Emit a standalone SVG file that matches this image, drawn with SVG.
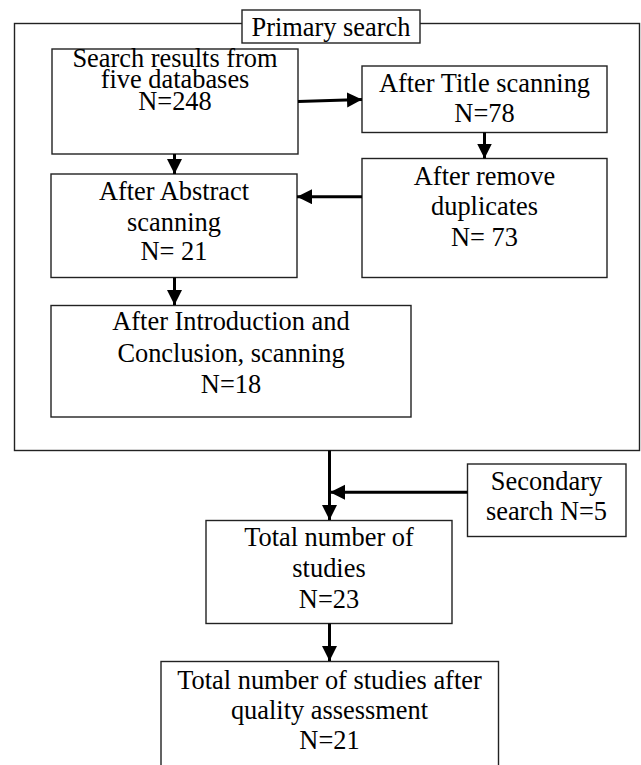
<svg xmlns="http://www.w3.org/2000/svg" width="641" height="765" viewBox="0 0 641 765">
<defs>
<style>
.box{fill:#fff;stroke:#222;stroke-width:1.4}
.t{font-family:"Liberation Serif","Times New Roman",serif;font-size:26.4px;fill:#000;text-anchor:middle}
.c{stroke:#000;stroke-width:3;fill:none}
</style>
<marker id="ah" markerUnits="userSpaceOnUse" markerWidth="16" markerHeight="16" refX="15" refY="7.5" orient="auto">
<path d="M0,0 L15,7.5 L0,15 z" fill="#000"/>
</marker>
</defs>
<rect width="641" height="765" fill="#fff"/>
<g id="primary">
<rect class="box" x="14.5" y="23.5" width="625" height="427" fill="none"/>
<rect class="box" x="242" y="10" width="178" height="33"/>
<text class="t" x="331" y="35.5">Primary search</text>
</g>
<g id="n1">
<rect class="box" x="52" y="49" width="246" height="105"/>
<text class="t" x="175" y="66.5">Search results from</text>
<text class="t" x="175" y="88">five databases</text>
<text class="t" x="175" y="110">N=248</text>
</g>
<g id="n2">
<rect class="box" x="362" y="66" width="245" height="66.5"/>
<text class="t" x="484.5" y="91.5">After Title scanning</text>
<text class="t" x="484.5" y="121.5">N=78</text>
</g>
<g id="n3">
<rect class="box" x="362" y="158.5" width="245" height="119"/>
<text class="t" x="484.5" y="184.5">After remove</text>
<text class="t" x="484.5" y="215">duplicates</text>
<text class="t" x="484.5" y="245.5">N= 73</text>
</g>
<g id="n4">
<rect class="box" x="51" y="174" width="246" height="103.5"/>
<text class="t" x="174" y="199.5">After Abstract</text>
<text class="t" x="174" y="230.5">scanning</text>
<text class="t" x="174" y="260">N= 21</text>
</g>
<g id="n5">
<rect class="box" x="51" y="305.5" width="360" height="111.5"/>
<text class="t" x="231" y="330">After Introduction and</text>
<text class="t" x="231" y="361.5">Conclusion, scanning</text>
<text class="t" x="231" y="392.5">N=18</text>
</g>
<g id="n6">
<rect class="box" x="467.5" y="464" width="158.5" height="72.5"/>
<text class="t" x="546.5" y="490">Secondary</text>
<text class="t" x="546.5" y="519.5">search N=5</text>
</g>
<g id="n7">
<rect class="box" x="206" y="520.5" width="246" height="103"/>
<text class="t" x="329" y="546">Total number of</text>
<text class="t" x="329" y="576.5">studies</text>
<text class="t" x="329" y="607.5">N=23</text>
</g>
<g id="n8">
<rect class="box" x="161" y="661.5" width="337.5" height="110"/>
<text class="t" x="329.5" y="688.5">Total number of studies after</text>
<text class="t" x="329.5" y="718.5">quality assessment</text>
<text class="t" x="329.5" y="748.5">N=21</text>
</g>
<g id="connectors">
<line class="c" x1="298" y1="101.5" x2="362" y2="99.5" marker-end="url(#ah)"/>
<line class="c" x1="484.5" y1="132.5" x2="484.5" y2="158.5" marker-end="url(#ah)"/>
<line class="c" x1="362" y1="196.7" x2="297" y2="196.7" marker-end="url(#ah)"/>
<line class="c" x1="174.5" y1="154" x2="174.5" y2="174" marker-end="url(#ah)"/>
<line class="c" x1="174.5" y1="277.5" x2="174.5" y2="305" marker-end="url(#ah)"/>
<line class="c" x1="329.5" y1="450.5" x2="329.5" y2="520" marker-end="url(#ah)"/>
<line class="c" x1="467.5" y1="492.3" x2="330" y2="492.3" marker-end="url(#ah)"/>
<line class="c" x1="329.5" y1="623.5" x2="329.5" y2="661" marker-end="url(#ah)"/>
</g>
</svg>
